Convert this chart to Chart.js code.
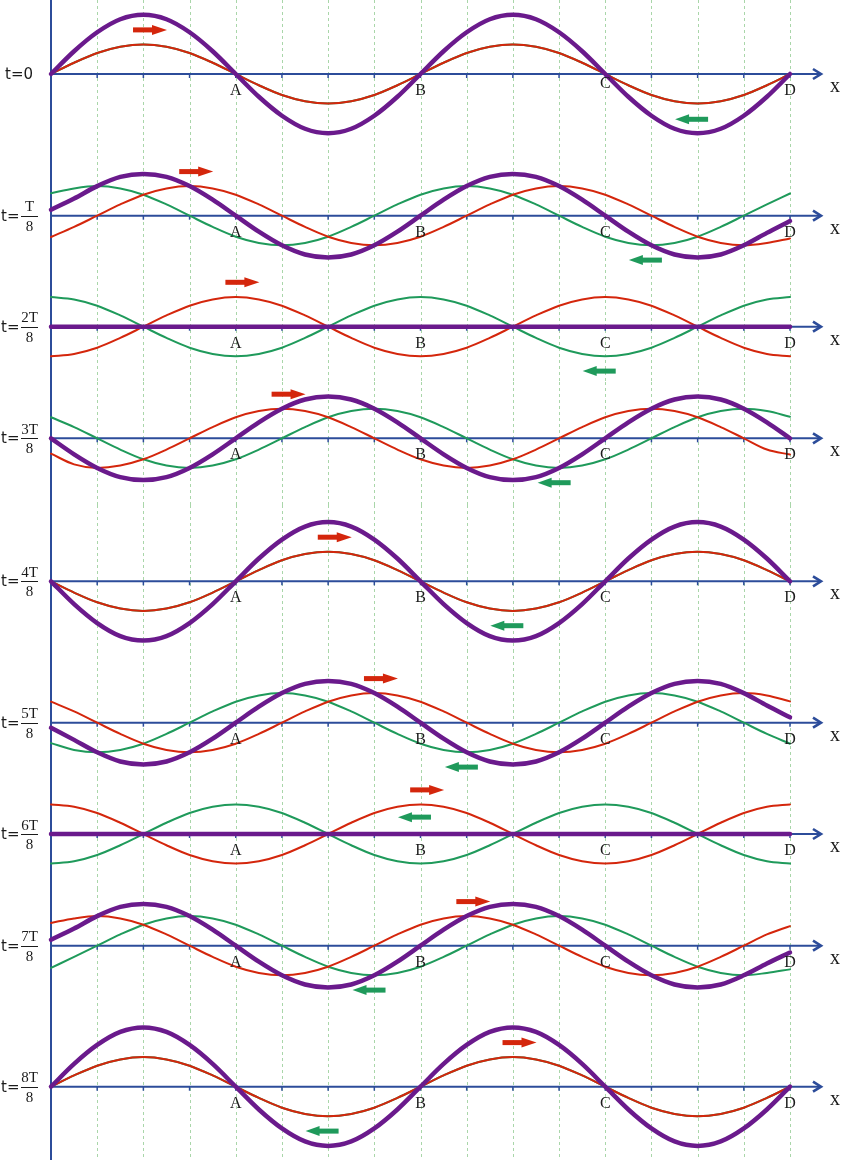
<!DOCTYPE html>
<html><head><meta charset="utf-8">
<script src="https://cdn.jsdelivr.net/npm/chart.js@4.4.1/dist/chart.umd.min.js"></script>
<style>
html,body{margin:0;padding:0;background:#fff;}
#wrap{position:relative;width:841px;height:1162px;overflow:hidden;background:#fff;}
#wrap canvas{position:absolute;left:0;}
</style></head><body><div id="wrap"></div>
<script>
// ---------- data (x in wavelengths, y in units of one travelling-wave amplitude) ----------
const xValues = [0,0.0625,0.125,0.1875,0.25,0.3125,0.375,0.4375,0.5,0.5625,0.625,0.6875,0.75,0.8125,0.875,0.9375,
                 1,1.0625,1.125,1.1875,1.25,1.3125,1.375,1.4375,1.5,1.5625,1.625,1.6875,1.75,1.8125,1.875,1.9375,2];
const gridX = [0.125,0.25,0.375,0.5,0.625,0.75,0.875,1,1.125,1.25,1.375,1.5,1.625,1.75,1.875,2];
const panelTimes = ['0','T/8','2T/8','3T/8','4T/8','5T/8','6T/8','7T/8','8T/8'];
const pointLabels = ['A','B','C','D'];
const pointLabelX = [0.5,1,1.5,2];

const red0    = [0,.38,.71,.92,1,.92,.71,.38,0,-.38,-.71,-.92,-1,-.92,-.71,-.38,0,.38,.71,.92,1,.92,.71,.38,0,-.38,-.71,-.92,-1,-.92,-.71,-.38,0];
const green0  = [0,.38,.71,.92,1,.92,.71,.38,0,-.38,-.71,-.92,-1,-.92,-.71,-.38,0,.38,.71,.92,1,.92,.71,.38,0,-.38,-.71,-.92,-1,-.92,-.71,-.38,0];
const purple0 = [0,.77,1.41,1.85,2,1.85,1.41,.77,0,-.77,-1.41,-1.85,-2,-1.85,-1.41,-.77,0,.77,1.41,1.85,2,1.85,1.41,.77,0,-.77,-1.41,-1.85,-2,-1.85,-1.41,-.77,0];

const red1    = [-.72,-.38,0,.38,.71,.92,1,.92,.71,.38,0,-.38,-.71,-.92,-1,-.92,-.71,-.38,0,.38,.71,.92,1,.92,.71,.38,0,-.38,-.71,-.92,-1,-.92,-.77];
const green1  = [.76,.92,1,.92,.71,.38,0,-.38,-.71,-.92,-1,-.92,-.71,-.38,0,.38,.71,.92,1,.92,.71,.38,0,-.38,-.71,-.92,-1,-.92,-.71,-.38,0,.38,.75];
const purple1 = [.2,.58,1,1.31,1.41,1.31,1,.54,0,-.54,-1,-1.31,-1.41,-1.31,-1,-.54,0,.54,1,1.31,1.41,1.31,1,.54,0,-.54,-1,-1.31,-1.41,-1.31,-1,-.58,-.18];

const red2    = [-1,-.92,-.71,-.38,0,.38,.71,.92,1,.92,.71,.38,0,-.38,-.71,-.92,-1,-.92,-.71,-.38,0,.38,.71,.92,1,.92,.71,.38,0,-.38,-.71,-.92,-1];
const green2  = [1,.92,.71,.38,0,-.38,-.71,-.92,-1,-.92,-.71,-.38,0,.38,.71,.92,1,.92,.71,.38,0,-.38,-.71,-.92,-1,-.92,-.71,-.38,0,.38,.71,.92,1];
const purple2 = [0,0,0,0,0,0,0,0,0,0,0,0,0,0,0,0,0,0,0,0,0,0,0,0,0,0,0,0,0,0,0,0,0];

const red3    = [-.52,-.88,-1,-.92,-.71,-.38,0,.38,.71,.92,1,.92,.71,.38,0,-.38,-.71,-.92,-1,-.92,-.71,-.38,0,.38,.71,.92,1,.92,.71,.38,0,-.38,-.55];
const green3  = [.71,.38,0,-.38,-.71,-.92,-1,-.92,-.71,-.38,0,.38,.71,.92,1,.92,.71,.38,0,-.38,-.71,-.92,-1,-.92,-.71,-.38,0,.38,.71,.92,1,.92,.73];
const purple3 = [0,-.54,-1,-1.31,-1.41,-1.31,-1,-.54,0,.54,1,1.31,1.41,1.31,1,.54,0,-.54,-1,-1.31,-1.41,-1.31,-1,-.54,0,.54,1,1.31,1.41,1.31,1,.54,0];

const red4    = [0,-.38,-.71,-.92,-1,-.92,-.71,-.38,0,.38,.71,.92,1,.92,.71,.38,0,-.38,-.71,-.92,-1,-.92,-.71,-.38,0,.38,.71,.92,1,.92,.71,.38,0];
const green4  = [0,-.38,-.71,-.92,-1,-.92,-.71,-.38,0,.38,.71,.92,1,.92,.71,.38,0,-.38,-.71,-.92,-1,-.92,-.71,-.38,0,.38,.71,.92,1,.92,.71,.38,0];
const purple4 = [0,-.77,-1.41,-1.85,-2,-1.85,-1.41,-.77,0,.77,1.41,1.85,2,1.85,1.41,.77,0,-.77,-1.41,-1.85,-2,-1.85,-1.41,-.77,0,.77,1.41,1.85,2,1.85,1.41,.77,0];

const red5    = [.71,.38,0,-.38,-.71,-.92,-1,-.92,-.71,-.38,0,.38,.71,.92,1,.92,.71,.38,0,-.38,-.71,-.92,-1,-.92,-.71,-.38,0,.38,.71,.92,1,.92,.72];
const green5  = [-.69,-.92,-1,-.92,-.71,-.38,0,.38,.71,.92,1,.92,.71,.38,0,-.38,-.71,-.92,-1,-.92,-.71,-.38,0,.38,.71,.92,1,.92,.71,.38,0,-.38,-.71];
const purple5 = [-.17,-.58,-1,-1.31,-1.41,-1.31,-1,-.54,0,.54,1,1.31,1.41,1.31,1,.54,0,-.54,-1,-1.31,-1.41,-1.31,-1,-.54,0,.54,1,1.31,1.41,1.31,1,.58,.18];

const red6    = [1,.92,.71,.38,0,-.38,-.71,-.92,-1,-.92,-.71,-.38,0,.38,.71,.92,1,.92,.71,.38,0,-.38,-.71,-.92,-1,-.92,-.71,-.38,0,.38,.71,.92,1];
const green6  = [-1,-.92,-.71,-.38,0,.38,.71,.92,1,.92,.71,.38,0,-.38,-.71,-.92,-1,-.92,-.71,-.38,0,.38,.71,.92,1,.92,.71,.38,0,-.38,-.71,-.92,-1];
const purple6 = [0,0,0,0,0,0,0,0,0,0,0,0,0,0,0,0,0,0,0,0,0,0,0,0,0,0,0,0,0,0,0,0,0];

const red7    = [.77,.92,1,.92,.71,.38,0,-.38,-.71,-.92,-1,-.92,-.71,-.38,0,.38,.71,.92,1,.92,.71,.38,0,-.38,-.71,-.92,-1,-.92,-.71,-.38,0,.38,.66];
const green7  = [-.75,-.38,0,.38,.71,.92,1,.92,.71,.38,0,-.38,-.71,-.92,-1,-.92,-.71,-.38,0,.38,.71,.92,1,.92,.71,.38,0,-.38,-.71,-.92,-1,-.92,-.8];
const purple7 = [.2,.58,1,1.31,1.41,1.31,1,.54,0,-.54,-1,-1.31,-1.41,-1.31,-1,-.54,0,.54,1,1.31,1.41,1.31,1,.54,0,-.54,-1,-1.31,-1.41,-1.31,-1,-.6,-.23];

const red8    = [0,.38,.71,.92,1,.92,.71,.38,0,-.38,-.71,-.92,-1,-.92,-.71,-.38,0,.38,.71,.92,1,.92,.71,.38,0,-.38,-.71,-.92,-1,-.92,-.71,-.38,0];
const green8  = [0,.38,.71,.92,1,.92,.71,.38,0,-.38,-.71,-.92,-1,-.92,-.71,-.38,0,.38,.71,.92,1,.92,.71,.38,0,-.38,-.71,-.92,-1,-.92,-.71,-.38,0];
const purple8 = [0,.77,1.41,1.85,2,1.85,1.41,.77,0,-.77,-1.41,-1.85,-2,-1.85,-1.41,-.77,0,.77,1.41,1.85,2,1.85,1.41,.77,0,-.77,-1.41,-1.85,-2,-1.85,-1.41,-.77,0];

// direction arrows (x of arrow tail / tip in wavelengths, y in amplitude units)
const redArrowX   = [0.222,0.347,0.472,0.597,0.722,0.847,0.972,1.097,1.222];
const redArrowY   = [1.49,1.49,1.5,1.49,1.49,1.49,1.49,1.49,1.49];
const greenArrowX = [1.689,1.564,1.439,1.317,1.189,1.066,0.939,0.816,0.689];
const greenArrowY = [-1.53,-1.5,-1.5,-1.5,-1.5,-1.5,0.57,-1.5,-1.5];

// ---------- layout & style ----------
const REDS = [red0,red1,red2,red3,red4,red5,red6,red7,red8];
const GREENS = [green0,green1,green2,green3,green4,green5,green6,green7,green8];
const PURPLES = [purple0,purple1,purple2,purple3,purple4,purple5,purple6,purple7,purple8];

const PANEL_TOP = [0,150,270,382,505,650,778,889,1010,1162];
const AXIS_Y = [74,215.7,326.7,438.3,581.3,722.7,834,945.7,1086.7];
const PPU = 29.6;

const C_PURPLE = '#6a1a8c';
const C_RED = '#d4260c';
const C_GREEN = '#1f9a5b';
const C_BLUE = '#2c4c9a';
const C_GRID = '#a9d6a9';
const C_TEXT = '#1b1b1b';

function line(ctx,x1,y1,x2,y2){ctx.beginPath();ctx.moveTo(x1,y1);ctx.lineTo(x2,y2);ctx.stroke();}

const panelDecor = {
  id: 'panelDecor',
  beforeDatasetsDraw(chart, args, opts) {
    const {ctx} = chart;
    const x = chart.scales.x, y = chart.scales.y;
    const i = opts.index;
    const H = chart.height;
    const bottom = (i === 8) ? H - 2 : H;
    const y0 = y.getPixelForValue(0);
    const x0 = x.getPixelForValue(0);
    const xEnd = x.getPixelForValue(2);
    ctx.save();
    // dashed grid
    ctx.strokeStyle = C_GRID; ctx.lineWidth = 1; ctx.setLineDash([3,3]);
    gridX.forEach(v => {
      const px = Math.round(x.getPixelForValue(v)) + 0.5;
      line(ctx, px, 0, px, bottom);
    });
    ctx.setLineDash([]);
    // vertical axis
    ctx.strokeStyle = C_BLUE; ctx.lineWidth = 2;
    line(ctx, x0, 0, x0, bottom);
    // horizontal axis with arrow
    ctx.lineWidth = 2;
    line(ctx, x0, y0, xEnd + 30, y0);
    ctx.lineWidth = 2.6; ctx.lineJoin = 'miter'; ctx.lineCap = 'butt';
    ctx.beginPath();
    ctx.moveTo(xEnd + 23, y0 - 5); ctx.lineTo(xEnd + 31, y0); ctx.lineTo(xEnd + 23, y0 + 5);
    ctx.stroke();
    // tick marks
    ctx.lineWidth = 1.5;
    gridX.forEach(v => {
      const px = x.getPixelForValue(v);
      line(ctx, px, y0, px, y0 + 4);
    });
    ctx.restore();
  },
  afterDatasetsDraw(chart, args, opts) {
    const {ctx} = chart;
    const x = chart.scales.x, y = chart.scales.y;
    const i = opts.index;
    const y0 = y.getPixelForValue(0);
    ctx.save();
    ctx.fillStyle = C_TEXT;
    // point labels
    ctx.font = '16px "Liberation Serif", "DejaVu Serif", serif';
    ctx.textAlign = 'center'; ctx.textBaseline = 'alphabetic';
    pointLabels.forEach((lab, k) => {
      const dy = (i === 0 && lab === 'C') ? -7 : 0;
      ctx.fillText(lab, x.getPixelForValue(pointLabelX[k]), y0 + 21 + dy);
    });
    ctx.font = '20px "Liberation Serif", "DejaVu Serif", serif';
    ctx.fillText('x', x.getPixelForValue(2) + 45, y0 + 18);
    // time label
    const t = panelTimes[i];
    ctx.textAlign = 'left'; ctx.textBaseline = 'middle';
    ctx.font = '15px "DejaVu Sans", sans-serif';
    if (t.indexOf('/') < 0) {
      ctx.fillText('t=' + t, 5, y0 + 1);
    } else {
      const parts = t.split('/');
      ctx.fillText('t=', 1, y0 + 1);
      ctx.textAlign = 'center'; ctx.textBaseline = 'alphabetic';
      ctx.font = '15px "Liberation Serif", "DejaVu Serif", serif';
      ctx.fillText(parts[0], 29.5, y0 - 4.5);
      ctx.fillText(parts[1], 29.5, y0 + 15);
      ctx.strokeStyle = C_TEXT; ctx.lineWidth = 1;
      line(ctx, 21, Math.round(y0) + 0.5, 38, Math.round(y0) + 0.5);
    }
    // red arrow (to the right)
    let ax = x.getPixelForValue(redArrowX[i]);
    let ay = y.getPixelForValue(redArrowY[i]);
    ctx.fillStyle = C_RED;
    ctx.fillRect(ax, ay - 2.5, 20, 5);
    ctx.beginPath();
    ctx.moveTo(ax + 19, ay - 5); ctx.lineTo(ax + 34, ay); ctx.lineTo(ax + 19, ay + 5); ctx.closePath(); ctx.fill();
    // green arrow (to the left), x = tip
    ax = x.getPixelForValue(greenArrowX[i]);
    ay = y.getPixelForValue(greenArrowY[i]);
    ctx.fillStyle = C_GREEN;
    ctx.fillRect(ax + 13, ay - 2.5, 20, 5);
    ctx.beginPath();
    ctx.moveTo(ax + 14, ay - 5); ctx.lineTo(ax, ay); ctx.lineTo(ax + 14, ay + 5); ctx.closePath(); ctx.fill();
    ctx.restore();
  }
};

function pts(arr){ return arr.map((v,k) => ({x: xValues[k], y: v})); }

const wrap = document.getElementById('wrap');
for (let i = 0; i < 9; i++) {
  const top = PANEL_TOP[i], h = PANEL_TOP[i+1] - PANEL_TOP[i];
  const cv = document.createElement('canvas');
  cv.width = 841; cv.height = h;
  cv.style.width = '841px'; cv.style.height = h + 'px'; cv.style.top = top + 'px';
  wrap.appendChild(cv);
  const ymax = (AXIS_Y[i] - top) / PPU;
  const ymin = -(PANEL_TOP[i+1] - AXIS_Y[i]) / PPU;
  new Chart(cv, {
    type: 'line',
    data: { datasets: [
      {label: 'resultant', data: pts(PURPLES[i]), borderColor: C_PURPLE, borderWidth: 4.5, clip: false},
      {label: 'to the right', data: pts(REDS[i]), borderColor: C_RED, borderWidth: 2, clip: false},
      {label: 'to the left', data: pts(GREENS[i]), borderColor: C_GREEN, borderWidth: 2, clip: false}
    ]},
    options: {
      responsive: false, animation: false,
      layout: {padding: {left: 51, right: 51, top: 0, bottom: 0}},
      elements: {point: {radius: 0, hoverRadius: 0}, line: {cubicInterpolationMode: 'monotone', fill: false, borderCapStyle: 'round', borderJoinStyle: 'round'}},
      scales: {
        x: {type: 'linear', display: false, min: 0, max: 2},
        y: {type: 'linear', display: false, min: ymin, max: ymax}
      },
      plugins: {legend: {display: false}, tooltip: {enabled: false}, panelDecor: {index: i}},
      events: []
    },
    plugins: [panelDecor]
  });
}
</script></body></html>
